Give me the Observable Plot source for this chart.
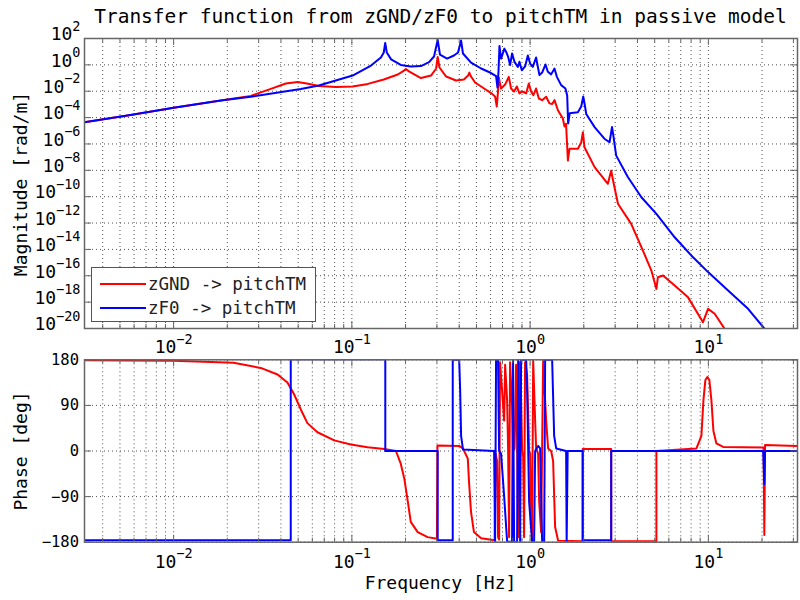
<!DOCTYPE html>
<html><head><meta charset="utf-8">
<script src="https://cdn.jsdelivr.net/npm/d3@7"></script>
<script src="https://cdn.jsdelivr.net/npm/@observablehq/plot@0.6"></script>
<style>
html,body{margin:0;padding:0;background:#fff;}
#root{position:relative;width:800px;height:600px;overflow:hidden;font-family:"DejaVu Sans Mono",monospace;color:#000;}
.abs{position:absolute;}
#title{left:84px;width:713px;top:5px;text-align:center;font-size:19.5px;line-height:24px;white-space:nowrap;}
.ylab{width:300px;height:22px;text-align:center;font-size:18px;line-height:22px;transform:rotate(-90deg);white-space:nowrap;}
#xlab{left:84px;width:713px;top:572px;text-align:center;font-size:18px;line-height:22px;}
#legend{left:91px;top:267px;width:225px;height:55px;}
</style></head><body>
<div id="root">
  <div id="title" class="abs">Transfer function from zGND/zF0 to pitchTM in passive model</div>
  <div id="topPlot" class="abs" style="left:0;top:30px;"></div>
  <div id="botPlot" class="abs" style="left:0;top:350px;"></div>
  <div class="abs ylab" style="left:-129px;top:173px;">Magnitude [rad/m]</div>
  <div class="abs ylab" style="left:-129px;top:440px;">Phase [deg]</div>
  <div id="xlab" class="abs">Frequency [Hz]</div>
  <div id="legend" class="abs"></div>
</div>
<script>
// ---- axis ticks ----
const xDomain = [0.0031623, 31.623];
const xMajorTicks = [0.01, 0.1, 1, 10];
const xMinorTicks = [0.004,0.005,0.006,0.007,0.008,0.009,
  0.02,0.03,0.04,0.05,0.06,0.07,0.08,0.09,
  0.2,0.3,0.4,0.5,0.6,0.7,0.8,0.9,
  2,3,4,5,6,7,8,9,20,30];
const magTicks = [1e2,1e0,1e-2,1e-4,1e-6,1e-8,1e-10,1e-12,1e-14,1e-16,1e-18,1e-20];
const phaseTicks = [180, 90, 0, -90, -180];

// ---- series names ----
const seriesNames = ["zGND -> pitchTM", "zF0 -> pitchTM"];
const seriesColors = ["#ff0000", "#0000ff"];

// ---- magnitude [frequency Hz, rad/m] ----
const magRed = [
  [0.00316,4.5e-5],[0.00573,1.6e-4],[0.01,5.5e-4],[0.0184,2.0e-3],[0.0271,4.4e-3],
  [0.0351,0.015],[0.0426,0.039],[0.0497,0.050],[0.0559,0.039],[0.0653,0.025],
  [0.0813,0.021],[0.101,0.023],[0.123,0.036],[0.151,0.078],[0.181,0.186],
  [0.196,0.37],[0.201,0.49],[0.209,0.32],[0.244,0.10],[0.278,0.155],
  [0.297,0.53],[0.303,4.0],[0.310,0.63],[0.338,0.13],[0.384,0.065],
  [0.425,0.078],[0.449,0.155],[0.456,0.26],[0.466,0.13],[0.491,0.046],
  [0.552,0.016],[0.604,7.2e-3],[0.636,4.0e-3],[0.650,6.9e-4],[0.661,0.011],
  [0.667,0.11],[0.687,0.016],[0.724,0.032],[0.759,0.123],[0.782,0.016],
  [0.813,9.5e-3],[0.842,0.023],[0.871,6.8e-3],[0.902,9.5e-3],[0.950,6.8e-3],
  [0.983,0.039],[1.013,9.1e-3],[1.043,5.0e-3],[1.08,0.016],[1.119,2.8e-3],
  [1.168,2.1e-3],[1.23,3.8e-3],[1.283,1.2e-3],[1.33,1.07e-3],[1.37,2.1e-3],
  [1.432,3.6e-4],[1.526,8.5e-5],[1.56,2.1e-5],[1.59,3.4e-5],[1.629,5.5e-8],
  [1.663,4.3e-7],[1.853,4.3e-7],[1.935,1.3e-6],[1.977,7.8e-6],[2.018,5.6e-7],
  [2.30,1.74e-8],[2.73,9.5e-10],[2.85,9.5e-9],[2.92,1.7e-9],[3.11,2.9e-11],
  [3.69,8.7e-13],[4.21,1.5e-14],[4.79,2.5e-16],[5.11,1.0e-17],[5.21,7.8e-17],
  [5.57,1.05e-16],[6.47,1.8e-17],[7.69,2.3e-18],[9.33,3.0e-20],[9.96,3.1e-19],
  [10.85,1.3e-19],[12.35,9.3e-21]
];
const magBlue = [
  [0.00316,4.5e-5],[0.00573,1.6e-4],[0.01,5.5e-4],[0.0184,2.0e-3],[0.0271,3.8e-3],
  [0.0517,0.0148],[0.0653,0.027],[0.101,0.155],[0.128,0.89],[0.1455,3.6],
  [0.151,8.7],[0.1538,46],[0.157,8.7],[0.166,2.6],[0.188,0.98],
  [0.214,0.76],[0.244,0.81],[0.271,1.6],[0.289,4.3],[0.303,77],
  [0.312,6.1],[0.342,3.0],[0.374,5.1],[0.394,8.7],[0.41,70],
  [0.42,7.3],[0.466,1.5],[0.531,0.53],[0.604,0.24],[0.644,0.14],
  [0.656,0.019],[0.665,0.37],[0.673,27],[0.687,3.0],[0.717,17],
  [0.733,10],[0.752,4.3],[0.772,0.98],[0.792,7.3],[0.817,1.7],
  [0.853,0.71],[0.871,1.7],[0.898,0.39],[0.937,0.76],[0.971,5.1],
  [1.0,1.26],[1.035,0.71],[1.08,3.6],[1.128,0.166],[1.168,0.26],
  [1.22,1.07],[1.257,0.30],[1.312,0.19],[1.37,0.53],[1.413,0.123],
  [1.493,0.029],[1.578,0.016],[1.614,0.0048],[1.634,3.5e-5],[1.667,2.1e-4],
  [1.853,2.5e-4],[1.935,6.9e-4],[1.986,4.0e-3],[2.024,9.8e-4],[2.064,1.9e-4],
  [2.30,1.9e-5],[2.61,2.5e-6],[2.79,1.35e-6],[2.88,1.9e-5],[2.93,4.4e-6],
  [3.04,1.3e-7],[3.54,3.0e-9],[4.21,9.1e-11],[5.11,5.0e-12],[6.47,8.3e-14],
  [8.02,3.5e-15],[9.96,1.9e-16],[12.9,7.6e-18],[16.7,3.1e-19],[20.7,9.3e-21]
];

// ---- phase [frequency Hz, deg] ----
const phaseRed = [
  [0.00316,179],[0.01,178],[0.0217,174],[0.0308,164],[0.0383,151],[0.0435,135],
  [0.0474,112],[0.0517,82],[0.0563,55],[0.0641,37],[0.0796,21],[0.0987,13],
  [0.1225,7.5],[0.152,4],[0.1767,0],[0.188,-25],[0.197,-55],[0.206,-100],
  [0.214,-140],[0.234,-160],[0.266,-170],[0.300,-173],[0.302,11],[0.40,10],
  [0.42,5],[0.447,-15],[0.454,-60],[0.466,-120],[0.484,-160],[0.531,-172],
  [0.632,-176],[0.640,-5],[0.653,-20],[0.661,-170],[0.670,-175],[0.678,175],
  [0.696,120],[0.715,60],[0.724,170],[0.743,100],[0.752,10],[0.762,-170],
  [0.772,175],[0.792,90],[0.802,0],[0.818,5],[0.834,170],[0.845,20],
  [0.857,-170],[0.868,175],[0.890,100],[0.902,0],[0.914,-10],[0.925,-170],
  [0.937,175],[0.962,150],[0.987,0],[1.0,-5],[1.013,-120],[1.026,-175],
  [1.040,178],[1.067,60],[1.081,5],[1.109,-5],[1.124,-100],[1.153,-160],
  [1.183,178],[1.23,60],[1.262,5],[1.312,0],[1.346,-20],[1.381,-150],
  [1.436,-177],[1.972,-178],[1.972,4],[2.85,4],[2.85,-178],[5.11,-178],
  [5.11,0],[8.57,5],[9.14,30],[9.38,100],[9.62,140],[9.87,146],[10.13,140],
  [10.4,100],[10.67,40],[11.09,15],[12.1,8],[20.4,7],[20.6,-166],[20.8,12],[31.6,10]
];
const phaseBlue = [
  [0.00316,-176],[0.0454,-176],[0.0454,181],[0.154,181],[0.154,0],[0.303,0],
  [0.303,-176],[0.368,-176],[0.368,180],[0.400,180],[0.405,120],[0.41,30],
  [0.42,3],[0.628,0],[0.636,-180],[0.644,180],[0.661,180],[0.670,0],
  [0.687,-5],[0.715,-90],[0.743,-179],[0.792,-179],[0.802,180],[0.813,-180],
  [0.845,-179],[0.857,180],[0.879,-180],[0.890,180],[0.950,180],[0.962,120],
  [0.987,-100],[1.026,-179],[1.053,-179],[1.067,0],[1.109,10],[1.138,5],
  [1.168,-180],[1.199,-180],[1.214,180],[1.329,180],[1.364,30],[1.400,5],
  [1.592,0],[1.603,-179],[1.624,0],[1.972,0],[1.972,-176],[2.85,-176],
  [2.85,0],[20.3,0],[20.6,-65],[20.8,0],[31.6,0]
];

// ---- helpers ----
const powFmt = d => "10^" + Math.round(Math.log10(d));
const gridStyle = {stroke: "#333", strokeOpacity: 0.85, strokeDasharray: "1,3", strokeWidth: 1};
const frameColor = "#666";

function frameTicks(yLo, yHi, yTicks) {
  const c = {stroke: frameColor, strokeWidth: 1};
  return [
    Plot.ruleX(xMajorTicks, {x: d => d, y1: yLo, y2: yLo, insetBottom: 7, ...c}),
    Plot.ruleX(xMinorTicks, {x: d => d, y1: yLo, y2: yLo, insetBottom: 4, ...c}),
    Plot.ruleX(xMajorTicks, {x: d => d, y1: yHi, y2: yHi, insetTop: 7, ...c}),
    Plot.ruleX(xMinorTicks, {x: d => d, y1: yHi, y2: yHi, insetTop: 4, ...c}),
    Plot.ruleY(yTicks, {y: d => d, x1: xDomain[0], x2: xDomain[0], insetLeft: 7, ...c}),
    Plot.ruleY(yTicks, {y: d => d, x1: xDomain[1], x2: xDomain[1], insetRight: 7, ...c})
  ];
}

function supify(svg) {
  d3.select(svg).selectAll("text").each(function() {
    const m = /^10\^(-?\d+)$/.exec(this.textContent);
    if (!m) return;
    const sel = d3.select(this);
    sel.text("");
    sel.append("tspan").text("10");
    sel.append("tspan").attr("dy", "-0.72em").attr("font-size", "0.75em")
      .text(m[1].replace("-", "\u2212"));
  });
}

const svgStyle = {fontFamily: "'DejaVu Sans Mono', monospace", fontSize: "15px", color: "#000", background: "transparent", overflow: "visible"};

// ---- magnitude plot ----
const topSvg = Plot.plot({
  width: 800, height: 326,
  marginLeft: 84, marginRight: 3, marginTop: 8, marginBottom: 28,
  style: svgStyle,
  x: {type: "log", domain: xDomain},
  y: {type: "log", domain: [1e-20, 1e2]},
  marks: [
    Plot.gridX([...xMajorTicks, ...xMinorTicks], gridStyle),
    Plot.gridY(magTicks, gridStyle),
    Plot.line(magRed, {x: d => d[0], y: d => d[1], stroke: seriesColors[0], strokeWidth: 2, clip: true}),
    Plot.line(magBlue, {x: d => d[0], y: d => d[1], stroke: seriesColors[1], strokeWidth: 2, clip: true}),
    Plot.frame({stroke: frameColor, strokeWidth: 1.5}),
    ...frameTicks(1e-20, 1e2, magTicks),
    Plot.axisX(xMajorTicks, {anchor: "bottom", tickSize: 0, tickPadding: 12, tickFormat: powFmt, fontSize: 18, label: null}),
    Plot.axisY(magTicks, {anchor: "left", tickSize: 0, tickPadding: 4, tickFormat: powFmt, fontSize: 18, dy: -4, label: null})
  ]
});
supify(topSvg);
document.getElementById("topPlot").append(topSvg);

// ---- phase plot ----
const botSvg = Plot.plot({
  width: 800, height: 250,
  marginLeft: 84, marginRight: 3, marginTop: 9.3, marginBottom: 58.3,
  style: svgStyle,
  x: {type: "log", domain: xDomain},
  y: {domain: [-180, 180]},
  marks: [
    Plot.gridX([...xMajorTicks, ...xMinorTicks], gridStyle),
    Plot.gridY(phaseTicks, gridStyle),
    Plot.line(phaseRed, {x: d => d[0], y: d => d[1], stroke: seriesColors[0], strokeWidth: 2, clip: true}),
    Plot.line(phaseBlue, {x: d => d[0], y: d => d[1], stroke: seriesColors[1], strokeWidth: 2, clip: true}),
    Plot.frame({stroke: frameColor, strokeWidth: 1.5}),
    ...frameTicks(-180, 180, phaseTicks),
    Plot.axisX(xMajorTicks, {anchor: "bottom", tickSize: 0, tickPadding: 13, tickFormat: powFmt, fontSize: 18, label: null}),
    Plot.axisY(phaseTicks, {anchor: "left", tickSize: 0, tickPadding: 5.5, tickFormat: d => d < 0 ? "\u2212" + (-d) : String(d), fontSize: 15.5, label: null})
  ]
});
supify(botSvg);
document.getElementById("botPlot").append(botSvg);

// ---- legend ----
const lg = d3.select("#legend").append("svg").attr("width", 225).attr("height", 55)
  .style("display", "block").style("font-family", "'DejaVu Sans Mono', monospace");
lg.append("rect").attr("x", 0.5).attr("y", 0.5).attr("width", 224).attr("height", 54)
  .attr("fill", "#fff").attr("stroke", "#555").attr("stroke-width", 1);
seriesNames.forEach((name, i) => {
  const yy = 17 + i * 24;
  lg.append("line").attr("x1", 9).attr("x2", 55).attr("y1", yy).attr("y2", yy)
    .attr("stroke", seriesColors[i]).attr("stroke-width", 2);
  lg.append("text").attr("x", 57).attr("y", yy).attr("dy", "0.35em")
    .attr("font-size", 17.5).attr("fill", "#222").text(name);
});
</script>
</body></html>
